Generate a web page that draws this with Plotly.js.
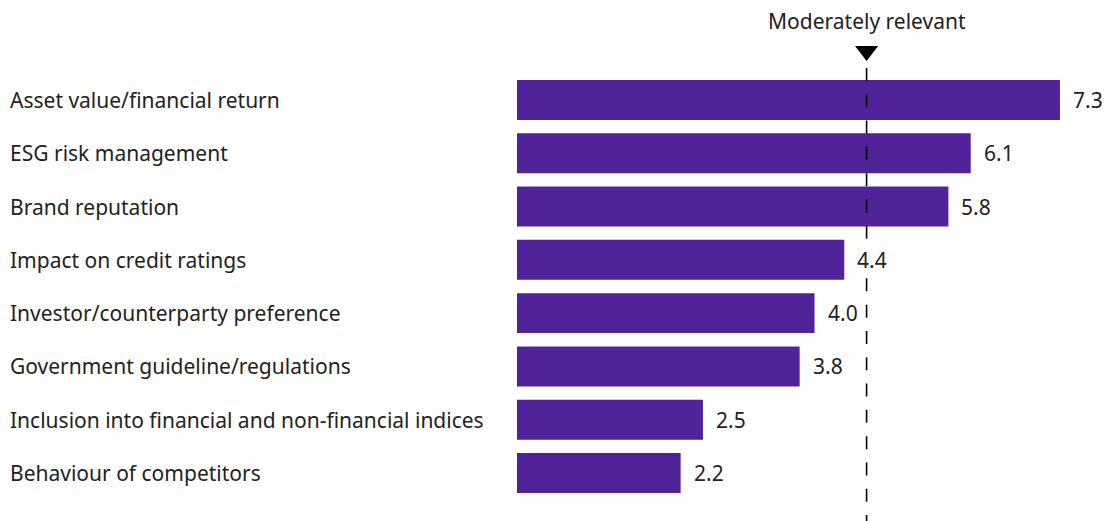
<!DOCTYPE html>
<html><head><meta charset="utf-8">
<script src="https://cdn.plot.ly/plotly-3.0.1.min.js"></script>
<style>html,body{margin:0;padding:0;background:#fff}#c{width:1104px;height:521px}</style>
</head><body><div id="c"></div>
<script>
const categories = [
  "Asset value/financial return",
  "ESG risk management",
  "Brand reputation",
  "Impact on credit ratings",
  "Investor/counterparty preference",
  "Government guideline/regulations",
  "Inclusion into financial and non-financial indices",
  "Behaviour of competitors"
];
const values = [7.3, 6.1, 5.8, 4.4, 4.0, 3.8, 2.5, 2.2];
const refValue = 4.7;
const refLabel = "Moderately relevant";

const font = "'Noto Sans', 'Open Sans', sans-serif";
const txt = "#222222";
const FS = 21;
const W = 1104, L = 517;
const plotW = W - L;
const idx = categories.map((c, i) => i);

const annotations = [];
categories.forEach((c, i) => {
  annotations.push({xref:'paper', yref:'y', x: -(L - 7.5) / plotW, y: i, xanchor:'left', yanchor:'middle',
    text: c, showarrow:false, font:{family:font, size:FS, color:txt}});
  annotations.push({xref:'x', yref:'y', x: values[i], y: i, xanchor:'left', yanchor:'middle', xshift: 10,
    text: values[i].toFixed(1), showarrow:false, bgcolor:'#ffffff', borderpad:2,
    font:{family:font, size:FS, color:txt}});
});
annotations.push({xref:'x', yref:'y', x: refValue, y: -1.48, xanchor:'center', yanchor:'middle',
  text: refLabel, showarrow:false, font:{family:font, size:FS, color:txt}});

const traces = [
  {type:'bar', orientation:'h', x: values, y: idx, marker:{color:'#512398'}, width:0.75,
   hoverinfo:'none'},
  {type:'scatter', mode:'lines', x:[refValue, refValue], y:[-0.6, 8.0],
   line:{color:'#000', width:1.6, dash:'13px,13.3px'}, hoverinfo:'none'},
  {type:'scatter', mode:'markers', x:[refValue], y:[-0.92], cliponaxis:false,
   marker:{symbol:'triangle-down', size:20, color:'#000', line:{width:0}}, hoverinfo:'none'}
];

Plotly.newPlot('c', traces, {
  width: W, height: 521,
  margin:{l:L, r:0, t:0, b:0},
  paper_bgcolor:'#fff', plot_bgcolor:'#fff',
  showlegend:false,
  xaxis:{range:[0, plotW/74.38], visible:false, fixedrange:true},
  yaxis:{type:'linear', range:[7.9, -1.875], visible:false, fixedrange:true},
  annotations: annotations
}, {staticPlot:true});
</script></body></html>
